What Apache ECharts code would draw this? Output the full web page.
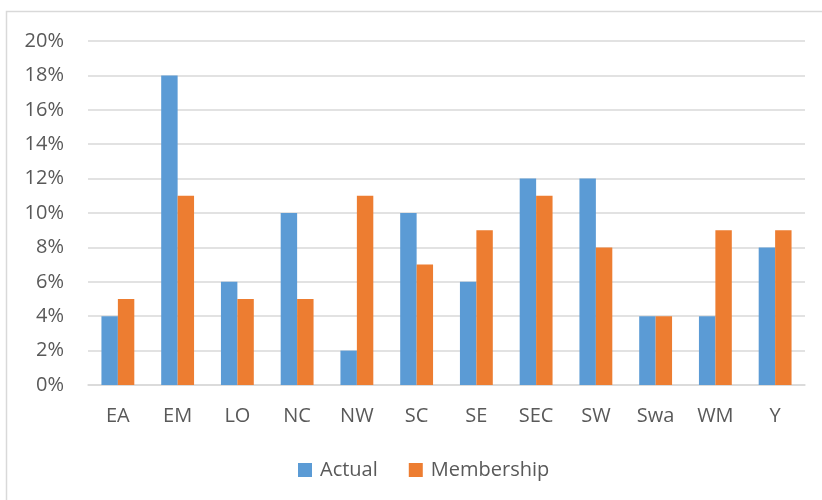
<!DOCTYPE html>
<html>
<head>
<meta charset="utf-8">
<script src="https://cdn.jsdelivr.net/npm/echarts@6/dist/echarts.min.js"></script>
<style>
  html, body { margin: 0; padding: 0; background: #fff; }
  #chart { width: 822px; height: 500px; }
</style>
</head>
<body>
<div id="chart"></div>
<script>
const regions = ['EA', 'EM', 'LO', 'NC', 'NW', 'SC', 'SE', 'SEC', 'SW', 'Swa', 'WM', 'Y']
const actual = [4, 18, 6, 10, 2, 10, 6, 12, 12, 4, 4, 8]
const membership = [5, 11, 5, 5, 11, 7, 9, 11, 8, 4, 9, 9]

const textColor = '#595959'
const font = '"Open Sans", "Liberation Sans", sans-serif'

const chart = echarts.init(document.getElementById('chart'))
chart.setOption({
  animation: false,
  textStyle: { fontFamily: font },
  graphic: [{
    type: 'rect',
    shape: { x: 6.5, y: 11.5, width: 830, height: 500 },
    style: { fill: 'none', stroke: '#d9d9d9', lineWidth: 1.5 },
    silent: true,
  }],
  grid: { left: 88, right: 17, top: 41, bottom: 115 },
  legend: {
    top: 455,
    left: 293,
    itemWidth: 14,
    itemHeight: 14,
    itemGap: 31,
    icon: 'rect',
    textStyle: { color: textColor, fontSize: 20, fontFamily: font, padding: [0, 0, 0, 3] },
    data: ['Actual', 'Membership'],
  },
  xAxis: {
    type: 'category',
    data: regions,
    axisLine: { lineStyle: { color: '#d9d9d9', width: 1.5 } },
    axisTick: { show: false },
    axisLabel: { color: textColor, fontSize: 20, margin: 21 },
  },
  yAxis: {
    type: 'value',
    min: 0,
    max: 20,
    interval: 2,
    axisLine: { show: false },
    axisTick: { show: false },
    splitLine: { lineStyle: { color: '#d9d9d9', width: 1.5 } },
    axisLabel: { color: textColor, fontSize: 20, margin: 24, formatter: v => v + '%' },
  },
  series: [
    {
      name: 'Actual',
      type: 'bar',
      data: actual,
      barGap: '0%',
      barCategoryGap: '45%',
      itemStyle: { color: '#5b9bd5' },
    },
    {
      name: 'Membership',
      type: 'bar',
      data: membership,
      itemStyle: { color: '#ed7d31' },
    },
  ],
})
</script>
</body>
</html>
